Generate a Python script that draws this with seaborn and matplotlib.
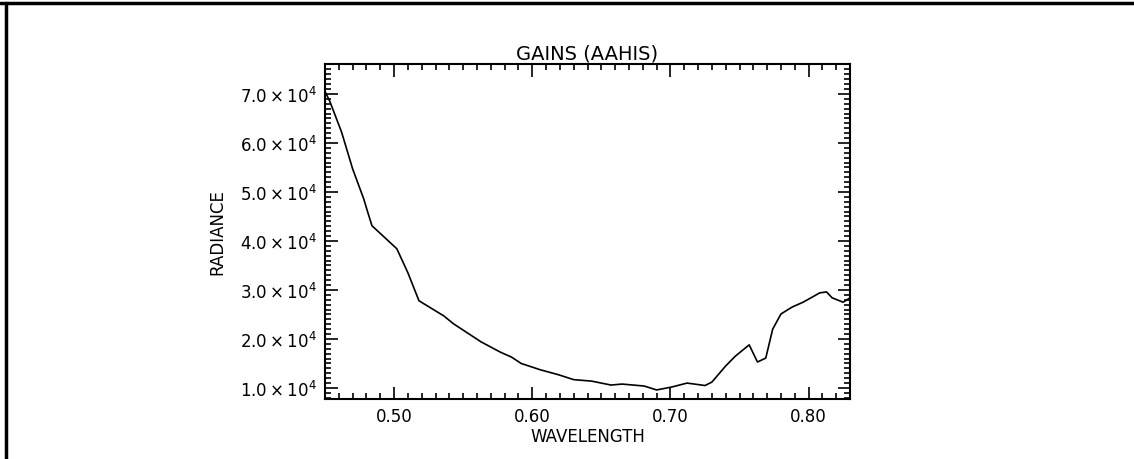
import matplotlib
matplotlib.use("Agg")
import matplotlib.pyplot as plt
from matplotlib.lines import Line2D
from matplotlib.ticker import MultipleLocator, FuncFormatter
import numpy as np
import pandas as pd
import seaborn as sns

# valori (lunghezza d'onda, radianza)
wavelength = [0.450, 0.4536, 0.462, 0.470, 0.478, 0.481, 0.484, 0.502, 0.510,
              0.518, 0.536, 0.543, 0.563, 0.577, 0.585, 0.592, 0.606, 0.619,
              0.630, 0.643, 0.657, 0.665, 0.681, 0.690, 0.701, 0.712, 0.720,
              0.725, 0.730, 0.740, 0.747, 0.757, 0.763, 0.769, 0.774, 0.780,
              0.788, 0.796, 0.803, 0.808, 0.813, 0.817, 0.825, 0.830]
radiance = [70500, 68400, 62200, 54700, 48600, 45800, 43100, 38400, 33500,
            27800, 24700, 23100, 19400, 17300, 16300, 15000, 13700, 12700,
            11700, 11400, 10600, 10800, 10400, 9600, 10200, 11000, 10700,
            10500, 11200, 14500, 16500, 18800, 15300, 16100, 22000, 25100,
            26500, 27500, 28600, 29400, 29600, 28400, 27500, 28400]

x_ticks = [0.50, 0.60, 0.70, 0.80]
y_ticks = [10000, 20000, 30000, 40000, 50000, 60000, 70000]

df = pd.DataFrame({"WAVELENGTH": wavelength, "RADIANCE": radiance})

sns.set_style("ticks")
plt.rcParams['font.family'] = ['DejaVu Sans']
plt.rcParams['mathtext.fontset'] = 'dejavusans'
plt.rcParams['text.color'] = 'black'
plt.rcParams['axes.labelcolor'] = 'black'

fig = plt.figure(figsize=(11.34, 4.6), dpi=100)
ax = fig.add_axes([0.2866, 0.1304, 0.463, 0.7283])

sns.lineplot(data=df, x="WAVELENGTH", y="RADIANCE", ax=ax, color="black",
             linewidth=1.2, sort=False)

ax.set_xlim(0.45, 0.83)
ax.set_ylim(7750, 76100)
ax.set_xticks(x_ticks)
ax.set_yticks(y_ticks)
ax.xaxis.set_minor_locator(MultipleLocator(0.01))
ax.yaxis.set_minor_locator(MultipleLocator(1000))
ax.xaxis.set_major_formatter(FuncFormatter(lambda v, p: f"{v:.2f}"))
ax.yaxis.set_major_formatter(FuncFormatter(lambda v, p: r"$%.1f\times10^{%d}$" % (v / 1e4, 4)))

ax.tick_params(which="both", direction="in", top=True, right=True,
               labelsize=12, colors="black", width=1.2)
ax.tick_params(which="major", length=9, pad=6)
ax.tick_params(which="minor", length=4.5)
for s in ax.spines.values():
    s.set_linewidth(1.5)
    s.set_color("black")

ax.set_title("GAINS (AAHIS)", fontsize=14, pad=4, color="black")
ax.set_xlabel("WAVELENGTH", fontsize=12, labelpad=1)
ax.set_ylabel("RADIANCE", fontsize=12, labelpad=10)

# cornice della pagina
fig.add_artist(Line2D([0, 1], [0.991, 0.991], color="black", linewidth=2.5))
fig.add_artist(Line2D([0.0055, 0.0055], [0, 0.991], color="black", linewidth=2.5))

fig.savefig("out.png", dpi=100, facecolor="white")
